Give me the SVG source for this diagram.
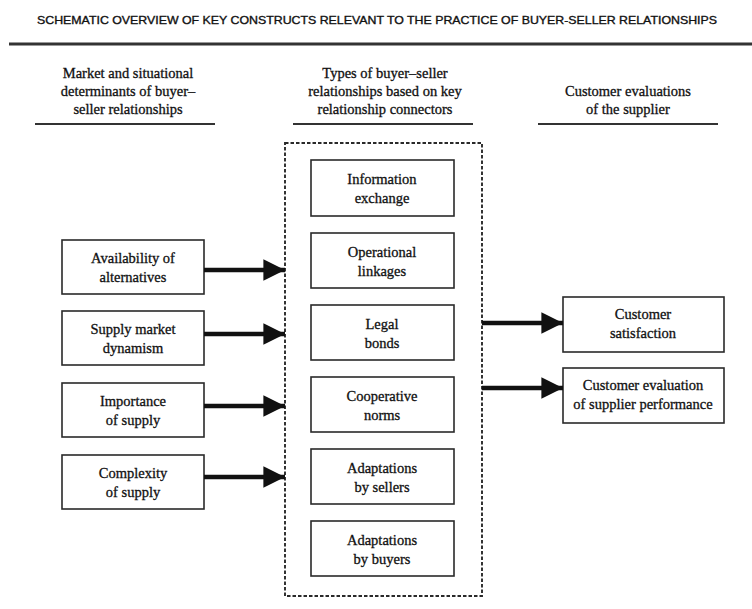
<svg xmlns="http://www.w3.org/2000/svg" width="752" height="609" viewBox="0 0 752 609">
  <style>
    .title { font-family: "Liberation Sans", Arial, sans-serif; font-size: 11px; fill: #111; stroke: #111; stroke-width: 0.35; }
    .hd { font-family: "Liberation Serif", "Times New Roman", serif; font-size: 14.5px; fill: #111; stroke: #111; stroke-width: 0.3; text-anchor: middle; }
    .lbl { font-family: "Liberation Serif", "Times New Roman", serif; font-size: 14.5px; fill: #111; stroke: #111; stroke-width: 0.3; text-anchor: middle; }
    .box { fill: #fff; stroke: #2a2a2a; stroke-width: 1.6; }
    .rule { stroke: #333; stroke-width: 1.8; }
    .frame { fill: none; stroke: #2a2a2a; stroke-width: 1.9; stroke-dasharray: 3.5 2; }
    .shaft { stroke: #111; stroke-width: 4.5; fill: none; }
  </style>
  <defs>
    <marker id="head" viewBox="0 0 10 10" refX="10" refY="5" markerWidth="5" markerHeight="4.8" markerUnits="strokeWidth" orient="auto">
      <path d="M0,0 L10,5 L0,10 Z" fill="#111"/>
    </marker>
  </defs>
  <rect width="752" height="609" fill="#fff"/>

  <!-- title and top rule -->
  <text class="title" x="37" y="24" textLength="680" lengthAdjust="spacingAndGlyphs">SCHEMATIC OVERVIEW OF KEY CONSTRUCTS RELEVANT TO THE PRACTICE OF BUYER-SELLER RELATIONSHIPS</text>
  <line x1="9" y1="44" x2="752" y2="44" stroke="#333" stroke-width="2.8"/>

  <!-- column headings -->
  <g id="heading-determinants">
    <text class="hd" x="128" y="78">Market and situational</text>
    <text class="hd" x="128" y="96">determinants of buyer–</text>
    <text class="hd" x="128" y="114">seller relationships</text>
    <line class="rule" x1="35" y1="124" x2="215" y2="124"/>
  </g>
  <g id="heading-types">
    <text class="hd" x="385" y="78">Types of buyer–seller</text>
    <text class="hd" x="385" y="96">relationships based on key</text>
    <text class="hd" x="385" y="114">relationship connectors</text>
    <line class="rule" x1="293" y1="124" x2="473" y2="124"/>
  </g>
  <g id="heading-evaluations">
    <text class="hd" x="628" y="96">Customer evaluations</text>
    <text class="hd" x="628" y="114">of the supplier</text>
    <line class="rule" x1="538" y1="124" x2="718" y2="124"/>
  </g>

  <!-- dashed frame around relationship connectors -->
  <rect id="connector-frame" class="frame" x="285" y="143" width="197" height="453"/>

  <!-- left column: determinants -->
  <g id="availability">
    <rect class="box" x="62" y="240" width="142" height="54"/>
    <text class="lbl" x="133" y="263">Availability of</text>
    <text class="lbl" x="133" y="282">alternatives</text>
  </g>
  <g id="dynamism">
    <rect class="box" x="62" y="311" width="142" height="54"/>
    <text class="lbl" x="133" y="334">Supply market</text>
    <text class="lbl" x="133" y="353">dynamism</text>
  </g>
  <g id="importance">
    <rect class="box" x="62" y="383" width="142" height="54"/>
    <text class="lbl" x="133" y="406">Importance</text>
    <text class="lbl" x="133" y="425">of supply</text>
  </g>
  <g id="complexity">
    <rect class="box" x="62" y="455" width="142" height="54"/>
    <text class="lbl" x="133" y="478">Complexity</text>
    <text class="lbl" x="133" y="497">of supply</text>
  </g>

  <!-- middle column: relationship connectors -->
  <g id="information">
    <rect class="box" x="311" y="160" width="143" height="56"/>
    <text class="lbl" x="382" y="184">Information</text>
    <text class="lbl" x="382" y="203">exchange</text>
  </g>
  <g id="operational">
    <rect class="box" x="311" y="233" width="143" height="55"/>
    <text class="lbl" x="382" y="257">Operational</text>
    <text class="lbl" x="382" y="276">linkages</text>
  </g>
  <g id="legal">
    <rect class="box" x="311" y="305" width="143" height="55"/>
    <text class="lbl" x="382" y="329">Legal</text>
    <text class="lbl" x="382" y="348">bonds</text>
  </g>
  <g id="cooperative">
    <rect class="box" x="311" y="377" width="143" height="55"/>
    <text class="lbl" x="382" y="401">Cooperative</text>
    <text class="lbl" x="382" y="420">norms</text>
  </g>
  <g id="adapt-sellers">
    <rect class="box" x="311" y="449" width="143" height="55"/>
    <text class="lbl" x="382" y="473">Adaptations</text>
    <text class="lbl" x="382" y="492">by sellers</text>
  </g>
  <g id="adapt-buyers">
    <rect class="box" x="311" y="521" width="143" height="55"/>
    <text class="lbl" x="382" y="545">Adaptations</text>
    <text class="lbl" x="382" y="564">by buyers</text>
  </g>

  <!-- right column: customer evaluations -->
  <g id="satisfaction">
    <rect class="box" x="563" y="297" width="161" height="55"/>
    <text class="lbl" x="643" y="319">Customer</text>
    <text class="lbl" x="643" y="338">satisfaction</text>
  </g>
  <g id="performance">
    <rect class="box" x="563" y="368" width="161" height="55"/>
    <text class="lbl" x="643" y="390">Customer evaluation</text>
    <text class="lbl" x="643" y="409">of supplier performance</text>
  </g>

  <!-- connectors -->
  <g id="connectors">
    <line class="shaft" x1="204" y1="270" x2="285" y2="270" marker-end="url(#head)"/>
    <line class="shaft" x1="204" y1="334" x2="285" y2="334" marker-end="url(#head)"/>
    <line class="shaft" x1="204" y1="406" x2="285" y2="406" marker-end="url(#head)"/>
    <line class="shaft" x1="204" y1="477" x2="285" y2="477" marker-end="url(#head)"/>
    <line class="shaft" x1="482" y1="323" x2="563" y2="323" marker-end="url(#head)"/>
    <line class="shaft" x1="482" y1="388" x2="563" y2="388" marker-end="url(#head)"/>
  </g>
</svg>
